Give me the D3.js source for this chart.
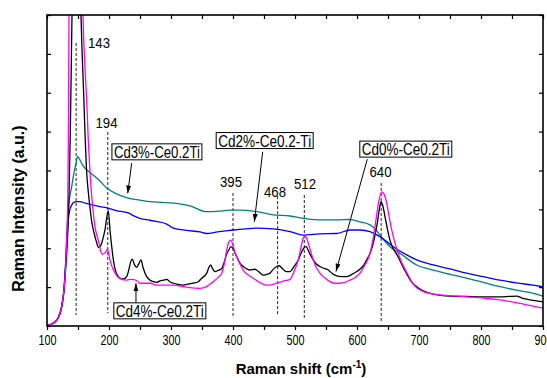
<!DOCTYPE html>
<html>
<head>
<meta charset="utf-8">
<script src="https://cdn.jsdelivr.net/npm/d3@7"></script>
<style>
  body { margin: 0; background: #fff; }
  svg { display: block; font-family: "Liberation Sans", Arial, sans-serif; }
</style>
</head>
<body>
<div id="container"></div>
<script>
// Raman spectra, [shift cm-1, intensity a.u.]
let cd0 = [[100,0.01],[109.7,0.07],[117.7,0.2],[123.7,0.5],[127.4,0.93],[130.6,1.6],[133.5,2.4],[135.5,3.4],[137.5,4.9],[139,6.5],[140.5,8.2],[143,9.6],[147,10.2],[151,9.7],[154.8,8.0],[156.5,7.1],[158.5,6.25],[161.3,4.96],[164,3.95],[166.6,3.45],[169.4,3.03],[172,2.7],[174.7,2.47],[177.4,2.3],[180.2,2.14],[182.7,2.02],[185,2.03],[188.2,2.13],[191,2.3],[193.5,2.47],[196,2.75],[198.9,2.97],[201.6,2.47],[204.4,2.04],[206.9,1.72],[210,1.45],[215,1.27],[219,1.22],[223.1,1.21],[228.5,1.27],[232,1.45],[235,1.65],[237.6,1.72],[241,1.58],[244.7,1.51],[248,1.6],[251.6,1.7],[255,1.5],[260.8,1.27],[266.1,1.18],[271.5,1.14],[276.9,1.12],[282.3,1.16],[288,1.18],[293.1,1.2],[298,1.14],[303.7,1.1],[311,1.07],[319.8,1.05],[325.3,1.07],[336,1.1],[344,1.14],[349.5,1.23],[357.6,1.36],[361,1.5],[364,1.57],[367,1.48],[371,1.4],[376,1.43],[381.8,1.48],[386,1.65],[389.8,1.85],[393,1.95],[396.5,2.04],[400.5,1.98],[404,1.85],[408.5,1.7],[412,1.6],[416.6,1.53],[427.4,1.44],[435.5,1.46],[441,1.4],[448.9,1.31],[454.4,1.33],[459.7,1.36],[464.5,1.45],[470.5,1.53],[474.7,1.55],[480,1.47],[486,1.4],[491.9,1.4],[498,1.52],[505.3,1.7],[510,1.88],[514,2.0],[517.7,2.04],[523.1,1.88],[529.5,1.7],[534,1.6],[540.3,1.53],[547,1.48],[553.7,1.44],[560,1.35],[567.3,1.29],[575,1.27],[583.4,1.27],[591,1.32],[599.5,1.4],[606,1.48],[610.2,1.55],[615.6,1.7],[621,1.87],[626.3,2.13],[629.5,2.38],[632.7,2.64],[636,3.0],[638.7,3.2],[641.5,3.1],[645.2,2.81],[649,2.5],[653.2,2.21],[658,2.0],[664,1.85],[669.4,1.68],[674.7,1.5],[680.2,1.34],[686,1.18],[690.8,1.08],[696.3,1.01],[705,0.92],[714,0.86],[723.1,0.82],[735,0.79],[750,0.77],[776.9,0.76],[803.7,0.75],[830.6,0.75],[845,0.76],[857.6,0.77],[866,0.72],[873.7,0.69],[884.4,0.66],[900,0.62]];

let cd4 = [[100,0.01],[109.7,0.07],[117.7,0.2],[123.7,0.5],[127.4,0.93],[130,1.5],[132.3,2.47],[133.9,3.76],[134.8,5.5],[135.5,8.0],[138,10.5],[141,12.5],[147,13.5],[152,12.5],[156,10],[158,8.0],[159.7,7.2],[162,6.4],[164,5.81],[166.6,4.78],[169.4,3.94],[171.5,3.45],[173.7,3.06],[177.4,2.55],[180,2.35],[182.7,2.21],[185.5,2.0],[188.7,1.85],[192.7,1.87],[195.5,1.93],[197.6,1.98],[199.5,1.86],[201.6,1.7],[204.8,1.53],[208,1.42],[212.4,1.29],[218,1.22],[228.5,1.18],[236,1.2],[244.7,1.17],[250,1.1],[266.1,1.1],[276.9,1.05],[293.1,1.05],[303.7,1.05],[325,1.0],[346.8,0.97],[358,1.02],[368.2,1.14],[376,1.25],[381.8,1.36],[386,1.6],[389.8,1.95],[393,2.15],[396.3,2.21],[400,2.08],[403,1.9],[406,1.78],[411,1.6],[416.6,1.44],[424,1.32],[432.7,1.23],[443,1.12],[454.4,1.05],[462,1.06],[470.5,1.1],[480,1.15],[491.9,1.2],[499,1.42],[505.3,1.7],[510,2.05],[513,2.25],[516.1,2.32],[519,2.25],[523.1,2.04],[529.5,1.7],[534,1.52],[540.3,1.36],[548,1.24],[556.5,1.14],[564,1.1],[572.6,1.1],[580,1.12],[588.7,1.18],[597,1.25],[604.8,1.36],[612,1.55],[621,1.87],[626,2.25],[630.6,2.73],[635,3.2],[639.8,3.45],[643.5,3.4],[647.9,3.16],[652,2.8],[656,2.47],[661,2.15],[666.6,1.87],[673,1.6],[680.2,1.38],[688,1.15],[696.3,0.98],[708,0.88],[723.1,0.82],[750,0.78],[776.9,0.75],[803.7,0.72],[830.6,0.67],[857,0.6],[884.4,0.51],[900,0.46]];

let cd3 = [[100,0.01],[109.7,0.07],[117.7,0.2],[123.7,0.5],[127.4,0.93],[130,1.6],[131.7,2.3],[133.5,2.75],[136,3.24],[139.8,3.58],[142.4,3.84],[146.8,4.19],[149.5,4.36],[153.2,4.27],[157,4.15],[161.3,4.06],[169.4,3.95],[177,3.85],[185.5,3.73],[196.3,3.55],[209.7,3.42],[220,3.35],[231.1,3.29],[250,3.24],[266.1,3.2],[285,3.18],[303.7,3.16],[330.6,3.09],[357.6,2.94],[375,2.95],[395.2,2.98],[411.3,2.98],[438.2,2.94],[464.5,2.86],[491.9,2.83],[513.4,2.77],[545.2,2.73],[567.3,2.73],[588.7,2.74],[604.8,2.68],[621,2.6],[629,2.5],[637.1,2.34],[645,2.18],[653.2,2.04],[669.4,1.87],[696.3,1.57],[723.1,1.44],[750,1.33],[776.9,1.23],[803.7,1.12],[830.6,1.01],[857,0.92],[884.4,0.84],[900,0.77]];

let cd2 = [[100,0.01],[109.7,0.07],[117.7,0.2],[123.7,0.5],[127.4,0.93],[130,1.6],[132.5,2.3],[134.4,2.73],[137,3.0],[139.8,3.11],[143,3.18],[147.9,3.2],[153.2,3.2],[162,3.16],[174.7,3.11],[185.5,3.07],[196.3,3.04],[212,2.97],[231.1,2.91],[239.2,2.84],[250,2.77],[266.1,2.72],[293.1,2.62],[303.7,2.52],[325,2.46],[346.8,2.42],[357.6,2.38],[375,2.42],[400.5,2.47],[420,2.5],[438.2,2.52],[464.5,2.5],[491.9,2.43],[513.4,2.34],[540.3,2.37],[567.3,2.38],[588.7,2.47],[604.8,2.47],[621,2.43],[637.1,2.3],[648,2.17],[658.5,2.04],[680.2,1.83],[696.3,1.7],[723.1,1.57],[750,1.47],[776.9,1.36],[803.7,1.27],[830.6,1.18],[857,1.11],[884.4,1.05],[900,1.01]];

// peak markers: label, line position, line top / bottom, label anchor
let peakLabels = ["143", "194", "395", "468", "512", "640"];
let peakPos = [147, 198, 400, 472, 515, 639];
let peakTop = [7.28, 4.99, 3.42, 3.34, 3.37, 3.68];
let peakBottom = [0.28, 0.33, 0.26, 0.28, 0.21, 0.13];
let peakLabelX = [183.9, 196, 396.8, 467.7, 516.1, 637.9];
let peakLabelY = [7.15, 5.09, 3.58, 3.32, 3.52, 3.83];

// sample annotations
let annLabels = ["Cd3%-Ce0.2Ti", "Cd2%-Ce0.2-Ti", "Cd0%-Ce0.2Ti", "Cd4%-Ce0.2Ti"];
let annBox = [[277.3, 4.48], [451.1, 4.77], [678.7, 4.55], [282, 0.39]];
let annFrom = [[236.6, 4.19], [447.9, 4.48], [616.6, 4.29], [243.5, 0.60]];
let annTip = [[230.2, 3.41], [434.4, 2.68], [566.1, 1.40], [243.5, 1.10]];

let xTicks = d3.range(100, 901, 50);
let yTicks = d3.range(0, 9, 1);

let width = 547;
let height = 378;
let mLeft = 47, mRight = 543, mTop = 15, mBottom = 326;

let svg = d3.select("#container")
  .append("svg")
  .attr("width", width)
  .attr("height", height);

let x = d3.scaleLinear().domain([100, 900]).range([mLeft, mRight]);
let y = d3.scaleLinear().domain([0, 8]).range([mBottom, mTop]);

let defs = svg.append("defs");
defs.append("clipPath").attr("id", "plot")
  .append("rect").attr("x", mLeft).attr("y", mTop)
  .attr("width", mRight - mLeft).attr("height", mBottom - mTop);

defs.append("marker")
  .attr("id", "arrow")
  .attr("markerUnits", "userSpaceOnUse")
  .attr("viewBox", "0 -3 8 6")
  .attr("refX", 8).attr("refY", 0)
  .attr("markerWidth", 8).attr("markerHeight", 6)
  .attr("orient", "auto")
  .append("path").attr("d", "M0,-2.5L8,0L0,2.5Z").attr("fill", "black");

// dashed peak lines
svg.append("g").selectAll("line").data(peakPos).enter().append("line")
  .attr("x1", d => x(d)).attr("x2", d => x(d))
  .attr("y1", (d, i) => y(peakTop[i])).attr("y2", (d, i) => y(peakBottom[i]))
  .attr("stroke", "#222").attr("stroke-width", 1)
  .attr("stroke-dasharray", "3,2");

// spectra
let line = d3.line().x(d => x(d[0])).y(d => y(d[1])).curve(d3.curveMonotoneX);
let series = [
  { data: cd3, color: "#008080" },
  { data: cd2, color: "#0000ff" },
  { data: cd0, color: "#000000" },
  { data: cd4, color: "#ff00ff" }
];
svg.append("g").attr("clip-path", "url(#plot)")
  .selectAll("path").data(series).enter().append("path")
  .attr("d", d => line(d.data))
  .attr("fill", "none")
  .attr("stroke", d => d.color)
  .attr("stroke-width", 1.3)
  .attr("stroke-linejoin", "round");

// peak labels
svg.append("g").selectAll("text").data(peakLabels).enter().append("text")
  .attr("x", (d, i) => x(peakLabelX[i]))
  .attr("y", (d, i) => y(peakLabelY[i]))
  .attr("text-anchor", "middle")
  .attr("font-size", "14px")
  .attr("textLength", 22)
  .attr("lengthAdjust", "spacingAndGlyphs")
  .text(d => d);

// annotation arrows + boxes
let annW = [86, 93, 88, 88];
let ann = svg.append("g");
annLabels.forEach(function (lab, i) {
  ann.append("line")
    .attr("x1", x(annFrom[i][0])).attr("y1", y(annFrom[i][1]))
    .attr("x2", x(annTip[i][0])).attr("y2", y(annTip[i][1]))
    .attr("stroke", "black").attr("stroke-width", 1)
    .attr("marker-end", "url(#arrow)");
  let cx = x(annBox[i][0]), cy = y(annBox[i][1]);
  ann.append("rect")
    .attr("x", cx - annW[i] / 2 - 2).attr("y", cy - 8)
    .attr("width", annW[i] + 4).attr("height", 16)
    .attr("fill", "white").attr("stroke", "black").attr("stroke-width", 1);
  ann.append("text")
    .attr("x", cx).attr("y", cy + 6)
    .attr("text-anchor", "middle")
    .attr("font-size", "16px")
    .attr("textLength", annW[i])
    .attr("lengthAdjust", "spacingAndGlyphs")
    .text(lab);
});

// axes
let xb = svg.append("g").attr("transform", `translate(0,${mBottom})`)
  .call(d3.axisBottom(x).tickValues(xTicks).tickSize(4).tickPadding(5)
    .tickFormat(d => d % 100 === 0 ? d : ""));
xb.selectAll("text").attr("font-size", "14px").attr("fill", "black")
  .each(function () {
    if (this.textContent) d3.select(this).attr("textLength", 18).attr("lengthAdjust", "spacingAndGlyphs");
  });

svg.append("g").attr("transform", `translate(0,${mTop})`)
  .call(d3.axisTop(x).tickValues(xTicks).tickSize(-4).tickFormat(""));
svg.append("g").attr("transform", `translate(${mLeft},0)`)
  .call(d3.axisLeft(y).tickValues(yTicks).tickSize(-4).tickFormat(""));
svg.append("g").attr("transform", `translate(${mRight},0)`)
  .call(d3.axisRight(y).tickValues(yTicks).tickSize(-4).tickFormat(""));

svg.selectAll(".domain").remove();
svg.selectAll(".tick line").attr("stroke", "black").attr("stroke-width", 1.2);

svg.append("rect")
  .attr("x", mLeft).attr("y", mTop)
  .attr("width", mRight - mLeft).attr("height", mBottom - mTop)
  .attr("fill", "none").attr("stroke", "black").attr("stroke-width", 1.6);

// axis titles
let xt = svg.append("text")
  .attr("x", (mLeft + mRight) / 2 + 6).attr("y", 374)
  .attr("text-anchor", "middle")
  .attr("font-size", "15px").attr("font-weight", "bold");
xt.append("tspan").text("Raman shift (cm");
xt.append("tspan").attr("font-size", "10px").attr("dy", -6).text("-1");
xt.append("tspan").attr("dy", 6).text(")");

svg.append("text")
  .attr("transform", `translate(24,${208.5}) rotate(-90)`)
  .attr("text-anchor", "middle")
  .attr("font-size", "16px").attr("font-weight", "bold")
  .text("Raman Intensity (a.u.)");
</script>
</body>
</html>
